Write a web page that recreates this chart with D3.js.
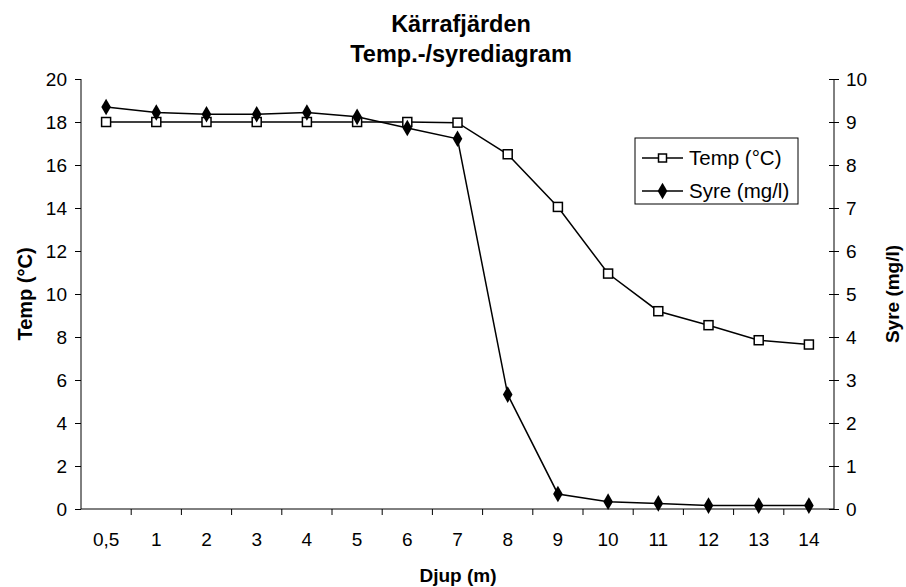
<!DOCTYPE html>
<html>
<head>
<meta charset="utf-8">
<script src="https://cdn.jsdelivr.net/npm/d3@7"></script>
<style>
  body { margin: 0; background: #fff; }
  svg { display: block; font-family: "Liberation Sans", Arial, sans-serif; }
</style>
</head>
<body>
<div id="chart"></div>
<script>
const depths = ["0,5", "1", "2", "3", "4", "5", "6", "7", "8", "9", "10", "11", "12", "13", "14"]
const temp = [18, 18, 18, 18, 18, 18, 18, 17.97, 16.5, 14.05, 10.95, 9.2, 8.55, 7.85, 7.65]
const syre = [9.35, 9.22, 9.18, 9.18, 9.22, 9.12, 8.86, 8.61, 2.66, 0.35, 0.17, 0.13, 0.08, 0.08, 0.08]
const tempTicks = [0, 2, 4, 6, 8, 10, 12, 14, 16, 18, 20]
const syreTicks = [0, 1, 2, 3, 4, 5, 6, 7, 8, 9, 10]

const width = 906, height = 587
const marginLeft = 81, marginRight = 72, marginTop = 79, marginBottom = 78

const svg = d3.select("#chart").append("svg")
  .attr("width", width)
  .attr("height", height)
  .attr("viewBox", [0, 0, width, height])

const x = d3.scaleBand()
  .domain(depths)
  .range([marginLeft, width - marginRight])

const yT = d3.scaleLinear().domain([0, 20]).range([height - marginBottom, marginTop])
const yS = d3.scaleLinear().domain([0, 10]).range([height - marginBottom, marginTop])

// title
svg.append("text")
  .attr("x", 461).attr("y", 32)
  .attr("text-anchor", "middle")
  .attr("font-size", 23.5).attr("font-weight", "bold")
  .text("Kärrafjärden")
svg.append("text")
  .attr("x", 461).attr("y", 62)
  .attr("text-anchor", "middle")
  .attr("font-size", 23.5).attr("font-weight", "bold")
  .text("Temp.-/syrediagram")

// left axis
const gl = svg.append("g")
  .attr("transform", `translate(${marginLeft},0)`)
  .call(d3.axisLeft(yT).tickValues(tempTicks).tickSize(6).tickPadding(8))
gl.select(".domain").attr("d", `M0,${marginTop}V${height - marginBottom}`)

// right axis, ticks cross the line
const gr = svg.append("g")
  .attr("transform", `translate(${width - marginRight},0)`)
  .call(d3.axisRight(yS).tickValues(syreTicks).tickSize(5).tickPadding(7))
gr.select(".domain").attr("d", `M0,${marginTop}V${height - marginBottom}`)
gr.selectAll(".tick line").attr("x1", -5)

// bottom axis, ticks between categories
const gb = svg.append("g")
  .attr("transform", `translate(0,${height - marginBottom})`)
  .call(d3.axisBottom(x).tickSize(0).tickPadding(24))
gb.select(".domain").attr("d", `M${marginLeft},0H${width - marginRight}`)
gb.selectAll(".bt").data(depths.slice(1)).join("line")
  .attr("class", "bt")
  .attr("x1", d => x(d)).attr("x2", d => x(d))
  .attr("y1", 0).attr("y2", 6)
  .attr("stroke", "#000")

svg.selectAll(".tick text").attr("font-size", 19).attr("fill", "#000")
  .attr("font-family", "Liberation Sans, Arial, sans-serif")
svg.selectAll(".domain, .tick line").attr("stroke", "#000")

// axis titles
svg.append("text")
  .attr("x", 458).attr("y", 582)
  .attr("text-anchor", "middle")
  .attr("font-size", 19).attr("font-weight", "bold")
  .text("Djup (m)")
svg.append("text")
  .attr("transform", `translate(32,${(marginTop + height - marginBottom) / 2}) rotate(-90)`)
  .attr("text-anchor", "middle")
  .attr("font-size", 20).attr("font-weight", "bold")
  .text("Temp (°C)")
svg.append("text")
  .attr("transform", `translate(899,${(marginTop + height - marginBottom) / 2}) rotate(-90)`)
  .attr("text-anchor", "middle")
  .attr("font-size", 19).attr("font-weight", "bold")
  .text("Syre (mg/l)")

const cx = d => x(d) + x.bandwidth() / 2
const diamond = d3.symbol().type(d3.symbolDiamond).size(80)

// temp line
svg.append("path")
  .datum(temp)
  .attr("fill", "none").attr("stroke", "#000").attr("stroke-width", 1.5)
  .attr("d", d3.line().x((d, i) => cx(depths[i])).y(d => yT(d)))

// syre line
svg.append("path")
  .datum(syre)
  .attr("fill", "none").attr("stroke", "#000").attr("stroke-width", 1.5)
  .attr("d", d3.line().x((d, i) => cx(depths[i])).y(d => yS(d)))

svg.selectAll(".sq").data(temp).join("rect")
  .attr("class", "sq")
  .attr("x", (d, i) => cx(depths[i]) - 4.5)
  .attr("y", d => yT(d) - 4.5)
  .attr("width", 9).attr("height", 9)
  .attr("fill", "#fff").attr("stroke", "#000").attr("stroke-width", 1.5)

svg.selectAll(".dm").data(syre).join("path")
  .attr("class", "dm")
  .attr("transform", (d, i) => `translate(${cx(depths[i])},${yS(d)})`)
  .attr("d", diamond)
  .attr("fill", "#000")

// legend
const lg = svg.append("g").attr("transform", "translate(635,138)")
lg.append("rect")
  .attr("width", 163).attr("height", 66)
  .attr("fill", "#fff").attr("stroke", "#000").attr("stroke-width", 1)
const items = [{ name: "Temp (°C)", y: 20 }, { name: "Syre (mg/l)", y: 53 }]
items.forEach((it, i) => {
  lg.append("line")
    .attr("x1", 7).attr("x2", 48).attr("y1", it.y).attr("y2", it.y)
    .attr("stroke", "#000").attr("stroke-width", 1.5)
  if (i === 0) {
    lg.append("rect")
      .attr("x", 23.5).attr("y", it.y - 4).attr("width", 8).attr("height", 8)
      .attr("fill", "#fff").attr("stroke", "#000").attr("stroke-width", 1.5)
  } else {
    lg.append("path")
      .attr("transform", `translate(27.5,${it.y})`)
      .attr("d", diamond).attr("fill", "#000")
  }
  lg.append("text")
    .attr("x", 54).attr("y", it.y + 7)
    .attr("font-size", 20.5)
    .text(it.name)
})
</script>
</body>
</html>
